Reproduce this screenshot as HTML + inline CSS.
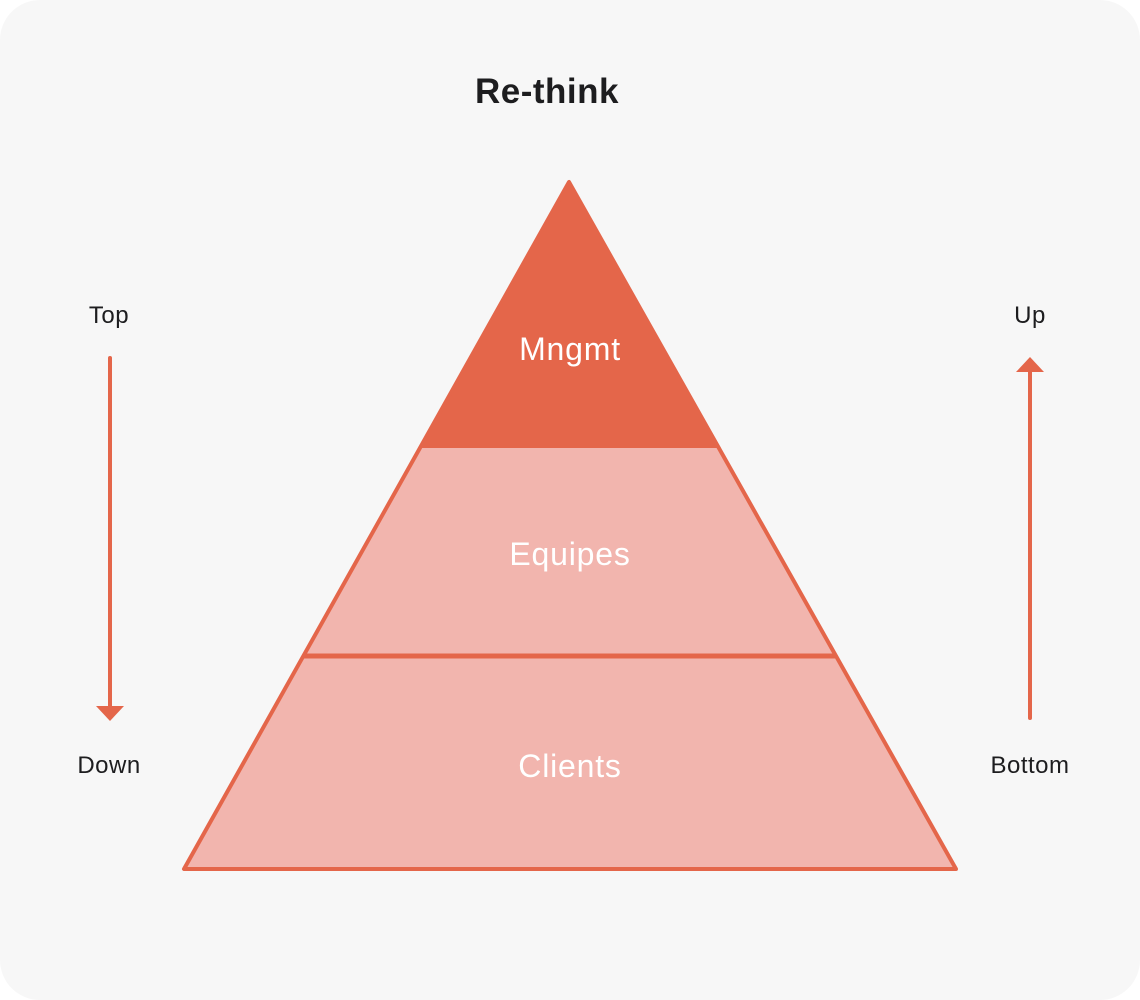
<!DOCTYPE html>
<html><head><style>
html,body{margin:0;padding:0;background:#fff;}
.c{position:relative;width:1140px;height:1000px;background:#f7f7f7;border-radius:40px;overflow:hidden;font-family:"Liberation Sans",sans-serif;}
svg{position:absolute;left:0;top:0;}
</style></head><body><div class="c">
<svg width="1140" height="1000" viewBox="0 0 1140 1000">
<polygon points="569,182 184,869 956,869" fill="#f2b5ae"/>
<polygon points="569,182 418,448 721,448" fill="#e4664a"/>
<line x1="303" y1="656" x2="835" y2="656" stroke="#e4664a" stroke-width="5"/>
<polygon points="569,182 184,869 956,869" fill="none" stroke="#e4664a" stroke-width="4" stroke-linejoin="round"/>
<line x1="110" y1="358" x2="110" y2="708" stroke="#e4664a" stroke-width="4" stroke-linecap="round"/>
<polygon points="96,706 124,706 110,721" fill="#e4664a"/>
<line x1="1030" y1="718" x2="1030" y2="370" stroke="#e4664a" stroke-width="4" stroke-linecap="round"/>
<polygon points="1016,372 1044,372 1030,357" fill="#e4664a"/>
<g font-family="Liberation Sans, sans-serif" text-anchor="middle">
<text x="547" y="103" font-size="35" font-weight="bold" fill="#1d1d1f" letter-spacing="0.5">Re-think</text>
<text x="570" y="360" font-size="32" fill="#fff" letter-spacing="0.8">Mngmt</text>
<text x="570" y="565" font-size="32" fill="#fff" letter-spacing="0.8">Equipes</text>
<text x="570" y="777" font-size="32" fill="#fff" letter-spacing="0.8">Clients</text>
<text x="109" y="323" font-size="24" fill="#1d1d1f" letter-spacing="0.5">Top</text>
<text x="109" y="773" font-size="24" fill="#1d1d1f" letter-spacing="0.5">Down</text>
<text x="1030" y="323" font-size="24" fill="#1d1d1f" letter-spacing="0.5">Up</text>
<text x="1030" y="773" font-size="24" fill="#1d1d1f" letter-spacing="0.5">Bottom</text>
</g>
</svg>
</div></body></html>
